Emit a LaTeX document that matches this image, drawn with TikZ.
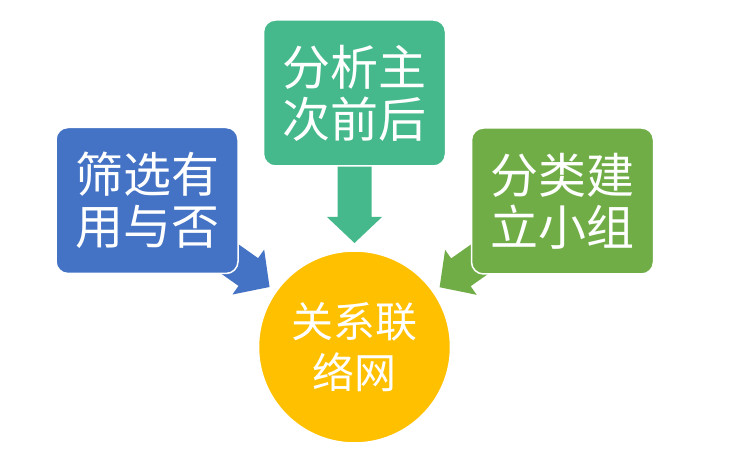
\documentclass[tikz,border=0pt]{standalone}
\usepackage{fontspec}
\newfontfamily\cjk{Noto Sans CJK SC}
\usetikzlibrary{calc}
\usetikzlibrary{positioning}
\definecolor{boxblue}{HTML}{4472C4}
\definecolor{boxteal}{HTML}{45B98B}
\definecolor{boxgreen}{HTML}{70AD47}
\definecolor{hubgold}{HTML}{FFC000}
\pgfdeclarelayer{background}
\pgfsetlayers{background,main}

\begin{document}
\begin{tikzpicture}[x=1pt,y=1pt,
  idea/.style={draw=white,line width=1.5pt,rounded corners=12pt,minimum width=182pt,minimum height=146pt,text=white,align=center,font=\cjk\fontsize{48}{52}\selectfont},
  hub/.style={circle,fill=hubgold,draw=white,line width=1.5pt,minimum size=192pt,text=white,align=center,font=\cjk\fontsize{42}{51}\selectfont}]
\useasboundingbox (0,0) rectangle (740,464);
\node[idea,fill=boxblue] (screen) at (147,263.5) {筛选有\\用与否};
\node[idea,fill=boxteal] (rank) at (354.5,371) {分析主\\次前后};
\node[idea,fill=boxgreen] (group) at (562.5,263) {分类建\\立小组};
\node[hub] (net) at (354.5,117) {关系联\\络网};
% block arrows behind the boxes
\begin{pgfonlayer}{background}
\foreach \b/\c in {screen/boxblue,rank/boxteal,group/boxgreen}{
  \coordinate (tip) at ($(net)!104pt!(\b)$);
  \coordinate (base) at ($(net)!130pt!(\b)$);
  \fill[\c] ($(\b)!17pt!90:(tip)$) -- ($(base)!17pt!90:(tip)$) -- ($(base)!27.5pt!90:(tip)$)
    -- (tip) -- ($(base)!27.5pt!-90:(tip)$) -- ($(base)!17pt!-90:(tip)$) -- ($(\b)!17pt!-90:(tip)$) -- cycle;
}
\end{pgfonlayer}
\end{tikzpicture}
\end{document}
